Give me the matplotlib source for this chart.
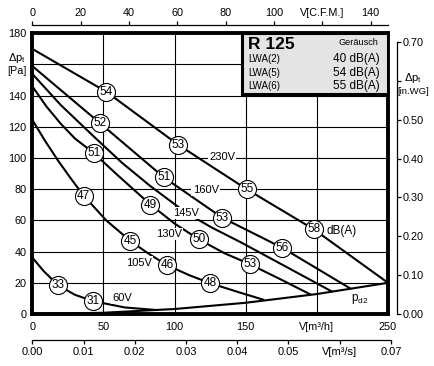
import matplotlib
matplotlib.use('Agg')
import matplotlib.pyplot as plt
from matplotlib.patches import Rectangle

plt.rcParams['font.family'] = ['Liberation Sans', 'DejaVu Sans']

# fan curves: flow [m3/h], pressure [Pa], dB(A) at the circles
flow_230 = [0, 52, 102.6, 150.7, 198, 250]
pres_230 = [170, 142.5, 108.5, 80, 54.2, 20]
db_230 = [None, 54, 53, 55, 58, None]

flow_160 = [0, 47.7, 92.5, 133.6, 175.8, 224]
pres_160 = [159, 122.3, 87.6, 61.7, 42.4, 16.1]
db_160 = [None, 52, 51, 53, 56, None]

flow_145 = [0, 20, 43, 63, 83, 108, 126, 146.5, 180, 211]
pres_145 = [154, 134, 114, 97, 82, 65, 55.5, 46, 29.5, 14.2]
db_145 = [None] * 10

flow_130 = [0, 10, 20, 30, 43.2, 60, 83, 100, 117, 135, 153, 175, 196]
pres_130 = [146, 133, 122, 112.5, 103.2, 89, 70.2, 58, 47.9, 39, 31.9, 22, 12.3]
db_130 = [None, None, None, None, 51, None, 49, None, 50, None, 53, None, None]

flow_105 = [0, 9, 18, 27, 36.1, 52, 69, 82, 94.8, 110, 124.9, 145, 163]
pres_105 = [124.5, 111, 98.5, 87, 75.9, 60, 46.8, 38.5, 31.3, 25, 19.8, 14, 9]
db_105 = [None, None, None, None, 47, None, 45, None, 46, None, 48, None, None]

flow_60 = [0, 8, 18.3, 30, 43, 65, 88]
pres_60 = [36.2, 27.5, 18.3, 12.3, 8.2, 4.2, 2.5]
db_60 = [None, None, 33, None, 31, None, None]

# dynamic pressure line pd2
flow_pd2 = [0, 50, 100, 150, 200, 250]
pres_pd2 = [0, 0.8, 3.2, 7.2, 12.8, 20]

volt_names = ['230V', '160V', '145V', '130V', '105V', '60V']

model = 'R 125'
noise_names = ['LWA(2)', 'LWA(5)', 'LWA(6)']
noise_db = [40, 54, 55]

W, H = 434, 366
L, R, T, B = 32.3, 388, 33.3, 314


def fx(px):
    return px / W


def fy(py):
    return 1 - py / H


fig = plt.figure(figsize=(W / 100, H / 100), dpi=100)
ax = fig.add_axes([fx(L), fy(B), (R - L) / W, (B - T) / H])
ax.set_xlim(0, 250)
ax.set_ylim(0, 180)
ax.set_xticks([0, 50, 100, 150, 200, 250])
ax.set_xticklabels(['0', '50', '100', '150', 'V[m³/h]', '250'])
ax.set_yticks(range(0, 181, 20))
ax.set_yticklabels([str(v) if v != 160 else '' for v in range(0, 181, 20)])
ax.tick_params(length=0, labelsize=7.8)
ax.tick_params(axis='x', pad=5.5)
ax.tick_params(axis='y', pad=4)
ax.grid(True, color='black', lw=0.8)
ax.set_axisbelow(True)
for s in ax.spines.values():
    s.set_linewidth(2.8)

curves = [(flow_230, pres_230, db_230), (flow_160, pres_160, db_160),
          (flow_145, pres_145, db_145), (flow_130, pres_130, db_130),
          (flow_105, pres_105, db_105), (flow_60, pres_60, db_60)]
for fl, pr, db in curves:
    ax.plot(fl, pr, color='black', lw=1.5, zorder=3, solid_capstyle='butt',
            solid_joinstyle='round')
    for x, y, d in zip(fl, pr, db):
        if d is None:
            continue
        ax.plot(x, y, 'o', ms=13, mfc='white', mec='black', mew=0.8, zorder=5)
        ax.text(x, y, str(d), fontsize=8.5, ha='center', va='center', zorder=6)

ax.plot(flow_pd2, pres_pd2, color='black', lw=1.5, zorder=3)

volt_x = [133.6, 121.8, 107.7, 96, 75, 63]
volt_y = [100.6, 79.3, 64.9, 51.5, 33, 10.2]
for name, x, y in zip(volt_names, volt_x, volt_y):
    ax.text(x, y, name, fontsize=8, ha='center', va='center', zorder=4,
            bbox=dict(boxstyle='square,pad=0.1', fc='white', ec='none'))

ax.text(207, 53.4, 'dB(A)', fontsize=8.5, ha='left', va='center', zorder=4)
ax.text(230, 9.6, r'$\mathregular{p_{d2}}$', fontsize=8.5, ha='center', va='center')

# info box
ax.add_patch(Rectangle((147.7, 141), 102.3, 39, fc='#e4e4e4', ec='black', lw=2.2, zorder=7))
ax.text(151.6, 172.5, model, fontsize=12.5, fontweight='bold', ha='left', va='center', zorder=8)
ax.text(243.5, 173.8, 'Geräusch', fontsize=6.6, ha='right', va='center', zorder=8)
for i, (n, d) in enumerate(zip(noise_names, noise_db)):
    yy = 163.2 - i * 8.35
    ax.text(151.6, yy, n, fontsize=7, ha='left', va='center', zorder=8)
    ax.text(244.3, yy, f'{d} dB(A)', fontsize=8.5, ha='right', va='center', zorder=8)

fig.text(fx(26), fy(58), r'$\mathregular{\Delta p_t}$', fontsize=8, ha='right', va='center')
fig.text(fx(27), fy(71), '[Pa]', fontsize=7.8, ha='right', va='center')

# top axis: CFM
cfm_max = 250 * 0.5886
ax_top = fig.add_axes([fx(L), fy(25), (R - L) / W, 0.001])
ax_top.patch.set_alpha(0)
ax_top.set_xlim(0, cfm_max)
for k in ['left', 'right', 'bottom']:
    ax_top.spines[k].set_visible(False)
ax_top.spines['top'].set_linewidth(0.9)
ax_top.set_yticks([])
ax_top.xaxis.tick_top()
ax_top.set_xticks(range(0, 141, 20))
ax_top.set_xticklabels(['0', '20', '40', '60', '80', '100', 'V[C.F.M.]', '140'])
ax_top.tick_params(axis='x', direction='out', length=3, width=0.9, pad=2, labelsize=7.8)

# right axis: in.WG
ax_r = fig.add_axes([fx(396.7) - 0.001, fy(B), 0.001, (B - T) / H])
ax_r.patch.set_alpha(0)
ax_r.set_ylim(0, 180 / 249.09)
for k in ['left', 'top', 'bottom']:
    ax_r.spines[k].set_visible(False)
ax_r.spines['right'].set_linewidth(0.9)
ax_r.spines['right'].set_bounds(0, 0.7)
ax_r.set_xticks([])
ax_r.yaxis.tick_right()
wg_ticks = [0, 0.1, 0.2, 0.3, 0.4, 0.5, 0.6, 0.7]
ax_r.set_yticks(wg_ticks)
ax_r.set_yticklabels([f'{v:.2f}' if v != 0.6 else '' for v in wg_ticks])
ax_r.tick_params(axis='y', direction='out', length=3, width=0.9, pad=1, labelsize=7.8)
fig.text(fx(413), fy(78), r'$\mathregular{\Delta p_t}$', fontsize=8, ha='center', va='center')
fig.text(fx(413), fy(91.5), '[in.WG]', fontsize=6.8, ha='center', va='center')

# bottom axis: m3/s
ax_s = fig.add_axes([fx(L), fy(339.5), 0.07 * 3600 * (R - L) / 250 / W, 0.001])
ax_s.patch.set_alpha(0)
ax_s.set_xlim(0, 0.07)
for k in ['left', 'right', 'top']:
    ax_s.spines[k].set_visible(False)
ax_s.spines['bottom'].set_linewidth(0.9)
ax_s.set_yticks([])
s_ticks = [0, 0.01, 0.02, 0.03, 0.04, 0.05, 0.06, 0.07]
ax_s.set_xticks(s_ticks)
ax_s.set_xticklabels([f'{v:.2f}' if v != 0.06 else 'V[m³/s]' for v in s_ticks])
ax_s.tick_params(axis='x', direction='out', length=3, width=0.9, pad=2.5, labelsize=8)

fig.savefig('out.png', dpi=100)
